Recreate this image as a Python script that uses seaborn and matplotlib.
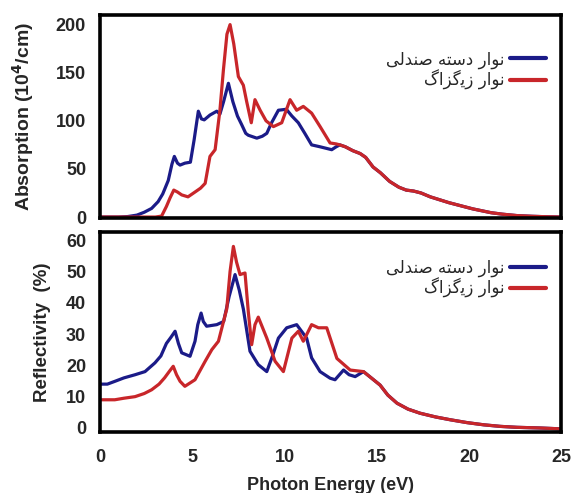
import numpy as np
import pandas as pd
import matplotlib
matplotlib.use("Agg")
import matplotlib.pyplot as plt
import seaborn as sns

# Persian legend labels, pre-shaped (presentation forms, visual order)
label_armchair = "\uFBFD\uFEDF\uFEAA\uFEE8\uFEBB \uFEEA\uFE98\uFEB3\uFEA9 \uFEAD\uFE8D\uFEEE\uFEE7"
label_zigzag = "\uFB92\uFE8D\uFEB0\uFB94\uFBFE\uFEAF \uFEAD\uFE8D\uFEEE\uFEE7"

# shared high-energy tail (both ribbons)
abs_tail_x = [13.0, 13.3, 13.7, 14.1, 14.4, 14.8, 15.2, 15.7, 16.2, 16.6, 17.0, 17.4, 17.9, 18.4, 18.9, 19.3, 19.7, 20.2, 20.7, 21.2, 21.8, 22.6, 23.4, 24.2, 25.0]
abs_tail_y = [75, 73, 69, 66, 62, 52, 46, 37, 31, 28, 27, 25, 21, 18, 15, 13, 11, 8.5, 6.5, 4.5, 3, 1.5, 0.8, 0.3, 0]

abs_blue_x = [0, 1.0, 1.5, 2.0, 2.4, 2.8, 3.15, 3.4, 3.7, 3.9, 4.03, 4.2, 4.34, 4.6, 4.9, 5.1, 5.33, 5.5, 5.65, 5.96, 6.33, 6.5, 6.7, 6.96, 7.2, 7.45, 7.68, 7.9, 8.04, 8.5, 8.8, 9.04, 9.3, 9.67, 10.1, 10.4, 10.75, 11.1, 11.47, 11.93, 12.56, 12.8]
abs_blue_y = [0, 0, 0.5, 2, 5, 9, 16, 24, 38, 55, 63, 56, 54, 56, 57, 80, 110, 102, 101, 106, 110, 107, 120, 139, 120, 105, 96, 87, 85, 82, 84, 87, 98, 111, 112, 105, 98, 87, 75, 73, 70, 73]

abs_red_x = [0, 2.0, 3.0, 3.34, 3.6, 3.8, 4.0, 4.2, 4.43, 4.77, 5.15, 5.45, 5.7, 5.96, 6.24, 6.5, 6.69, 6.88, 7.05, 7.25, 7.5, 7.77, 7.95, 8.2, 8.4, 8.68, 9.0, 9.4, 9.85, 10.3, 10.66, 11.02, 11.47, 11.93, 12.47, 12.8]
abs_red_y = [0, 0, 0, 1, 11, 20, 28, 26, 23, 21, 26, 30, 35, 63, 70, 111, 153, 190, 200, 180, 146, 137, 120, 98, 122, 111, 100, 94, 98, 122, 111, 115, 108, 94, 77, 76]

ref_tail_x = [14.28, 14.7, 15.18, 15.6, 16.1, 16.7, 17.35, 18.2, 19.0, 19.9, 20.8, 21.7, 22.6, 23.8, 25.0]
ref_tail_y = [18, 16, 13.7, 10.5, 7.9, 6, 4.7, 3.5, 2.6, 1.7, 1.0, 0.5, 0.2, 0, -0.3]

ref_blue_x = [0, 0.4, 0.81, 1.3, 1.9, 2.44, 2.98, 3.3, 3.6, 3.85, 4.07, 4.25, 4.43, 4.88, 5.15, 5.3, 5.48, 5.6, 5.78, 6.33, 6.7, 7.0, 7.32, 7.55, 7.77, 8.13, 8.58, 9.04, 9.35, 9.67, 10.12, 10.66, 11.2, 11.47, 11.93, 12.47, 12.74, 13.2, 13.5, 13.83]
ref_blue_y = [14, 14, 14.9, 16, 17, 18, 20.8, 23, 27, 29, 30.9, 27, 24, 22.9, 27.7, 33, 36.7, 34, 32.5, 33, 34, 42, 49, 44, 38, 24.5, 20.2, 18, 23, 28.7, 32, 33, 28.7, 22.4, 18, 15.9, 15.4, 18.5, 17, 16.4]

ref_red_x = [0, 0.4, 0.8, 1.3, 1.9, 2.4, 2.8, 3.2, 3.5, 3.75, 3.97, 4.15, 4.34, 4.6, 5.15, 5.7, 6.06, 6.42, 6.87, 7.05, 7.23, 7.4, 7.59, 7.86, 8.04, 8.22, 8.4, 8.58, 9.04, 9.49, 9.94, 10.4, 10.75, 11.02, 11.47, 11.84, 12.29, 12.84, 13.56]
ref_red_y = [9, 9, 9, 9.5, 10, 11, 12.2, 14, 16, 18, 19.7, 17, 14.9, 13.3, 15.4, 21.3, 25, 27.7, 38, 50, 58, 53, 49, 49.5, 37, 26.6, 33, 35.4, 28.7, 21.3, 18, 28.7, 30.9, 27.7, 33, 32, 32, 22.2, 18.5]

x_ticks = [0, 5, 10, 15, 20, 25]
abs_ticks = [0, 50, 100, 150, 200]
ref_ticks = [0, 10, 20, 30, 40, 50, 60]


def build(bx, by, rx, ry, tx, ty):
    blue = pd.DataFrame({"E": bx + tx, "val": by + ty, "ribbon": label_armchair})
    red = pd.DataFrame({"E": rx + tx, "val": ry + ty, "ribbon": label_zigzag})
    return pd.concat([blue, red], ignore_index=True)


df_abs = build(abs_blue_x, abs_blue_y, abs_red_x, abs_red_y, abs_tail_x, abs_tail_y)
df_ref = build(ref_blue_x, ref_blue_y, ref_red_x, ref_red_y, ref_tail_x, ref_tail_y)

sns.set_style("white")
plt.rcParams["font.family"] = ["Liberation Sans", "DejaVu Sans"]
plt.rcParams["font.weight"] = "bold"

palette = {label_armchair: "#1b1b88", label_zigzag: "#c8262a"}

fig = plt.figure(figsize=(5.73, 4.93), dpi=100)
ax1 = fig.add_axes([0.1745, 0.5578, 0.805, 0.4118])
ax2 = fig.add_axes([0.1745, 0.1237, 0.805, 0.4057])

for ax, df in [(ax1, df_abs), (ax2, df_ref)]:
    sns.lineplot(data=df, x="E", y="val", hue="ribbon", palette=palette,
                 estimator=None, sort=False, linewidth=2.3, ax=ax)
    ax.set_xlim(0, 25)
    ax.set_xticks(x_ticks)
    for s in ax.spines.values():
        s.set_linewidth(2.6)
        s.set_color("black")
    ax.tick_params(direction="in", length=3, width=1, labelsize=13, pad=10)
    ax.set_xlabel("")
    for t in ax.get_xticklabels() + ax.get_yticklabels():
        t.set_fontweight("bold")

ax1.set_ylim(-1, 210)
ax1.set_yticks(abs_ticks)
ax1.set_xticklabels([])
ax1.set_ylabel("Absorption (10$^{\\mathbf{4}}$/cm)", fontsize=14, fontweight="bold", labelpad=14)

ax2.set_ylim(-1.3, 62.6)
ax2.set_yticks(ref_ticks)
ax2.set_ylabel("Reflectivity  (%)", fontsize=13.5, fontweight="bold", labelpad=11)
ax2.set_xlabel("Photon Energy (eV)", fontsize=13, fontweight="bold", labelpad=8)
ax2.tick_params(axis="x", pad=12)

for ax, anchor in [(ax1, (1.0, 0.9)), (ax2, (1.0, 0.94))]:
    leg = ax.legend(loc="upper right", bbox_to_anchor=anchor, frameon=False,
                    markerfirst=False, handlelength=2.2, handletextpad=0.3,
                    labelspacing=0.05, prop={"family": ["DejaVu Sans"], "weight": "normal", "size": 12})
    for line in leg.get_lines():
        line.set_linewidth(3)

fig.savefig("out.png", dpi=100)
